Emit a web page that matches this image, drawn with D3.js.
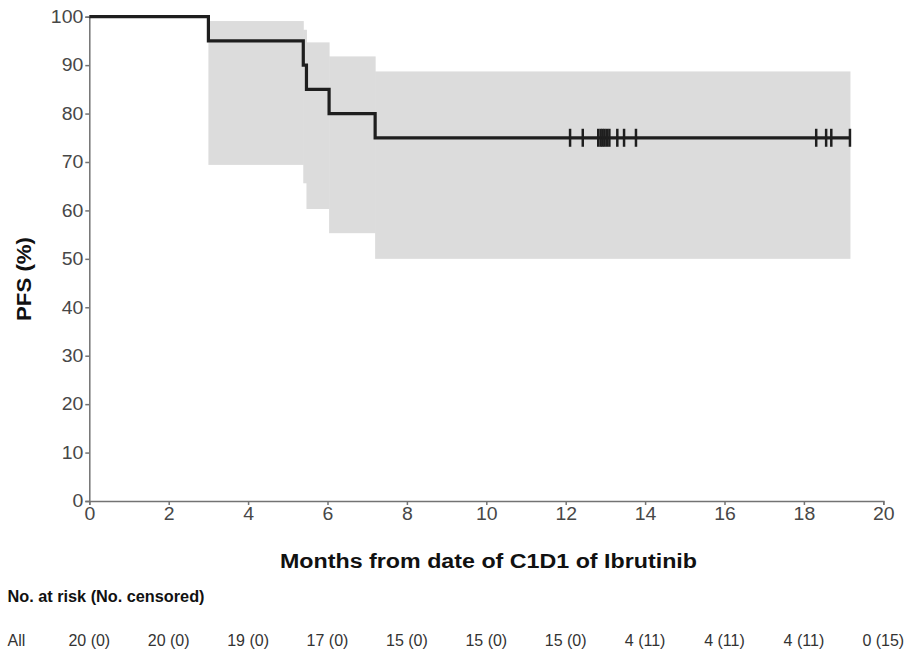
<!DOCTYPE html>
<html><head><meta charset="utf-8">
<script src="https://cdn.jsdelivr.net/npm/d3@7"></script>
<style>body{margin:0;background:#fff}svg{display:block}</style>
</head><body><svg id="c" width="909" height="649"></svg>
<script>
// KM step curve (months, PFS %)
const stepTimes = [0, 3.0, 5.39, 5.47, 6.04, 7.2];
const stepValues = [100, 95, 90, 85, 80, 75];
const endTime = 19.16;
// Confidence band per interval, starting at stepTimes[1]
const ciUpper = [99.1, 97.3, 94.7, 91.8, 88.7];
const ciLower = [69.4, 65.6, 60.3, 55.3, 50.0];
// Censored times
const censorTimes = [12.11, 12.43, 12.82, 12.88, 12.93, 12.98, 13.04, 13.10, 13.30, 13.47, 13.77, 18.31, 18.56, 18.69, 19.16];
const xTicks = [0, 2, 4, 6, 8, 10, 12, 14, 16, 18, 20];
const yTicks = [0, 10, 20, 30, 40, 50, 60, 70, 80, 90, 100];
const atRisk = ["20 (0)", "20 (0)", "19 (0)", "17 (0)", "15 (0)", "15 (0)", "15 (0)", "4 (11)", "4 (11)", "4 (11)", "0 (15)"];

const FONT = "Liberation Sans, Arial, sans-serif";
const svg = d3.select("#c");
const x = d3.scaleLinear().domain([0, 20]).range([89.3, 883.3]);
const y = d3.scaleLinear().domain([0, 100]).range([501, 16.7]);

function stretch(sel, k) {
  sel.each(function () {
    const len = this.getComputedTextLength();
    d3.select(this).attr("textLength", len * k).attr("lengthAdjust", "spacingAndGlyphs");
  });
}

// CI band
const bandPts = [];
for (let i = 0; i < ciUpper.length; i++) {
  const t0 = stepTimes[i + 1], t1 = i + 2 < stepTimes.length ? stepTimes[i + 2] : endTime;
  bandPts.push({t0, t1, u: ciUpper[i], l: ciLower[i]});
}
svg.append("g").selectAll("rect").data(bandPts).join("rect")
  .attr("x", d => x(d.t0)).attr("width", d => x(d.t1) - x(d.t0) + 0.5)
  .attr("y", d => y(d.u)).attr("height", d => y(d.l) - y(d.u))
  .attr("fill", "#dcdcdc");

// axes
const axisColor = "#737373";
const gx = svg.append("g").attr("transform", "translate(0,501)")
  .call(d3.axisBottom(x).tickValues(xTicks).tickSize(4).tickPadding(2));
const gy = svg.append("g").attr("transform", "translate(89.3,0)")
  .call(d3.axisLeft(y).tickValues(yTicks).tickSize(4).tickPadding(2));
[gx, gy].forEach(g => {
  g.selectAll("path,line").attr("stroke", axisColor).attr("stroke-width", 1.5);
  g.selectAll("text").attr("fill", "#474747").style("font-family", FONT).style("font-size", "18px");
  stretch(g.selectAll("text"), 1.08);
});

// KM line
const stepData = stepTimes.map((t, i) => ({t, v: stepValues[i]}));
stepData.push({t: endTime, v: stepValues[stepValues.length - 1]});
const line = d3.line().x(d => x(d.t)).y(d => y(d.v)).curve(d3.curveStepAfter);
svg.append("path").datum(stepData).attr("d", line)
  .attr("fill", "none").attr("stroke", "#1e1e1e").attr("stroke-width", 3.2);

// censor marks
svg.append("g").selectAll("line").data(censorTimes).join("line")
  .attr("x1", d => x(d)).attr("x2", d => x(d))
  .attr("y1", y(75) - 9).attr("y2", y(75) + 9)
  .attr("stroke", "#1e1e1e").attr("stroke-width", 2.5);

// titles
svg.append("text").attr("transform", "translate(31,279) rotate(-90)")
  .attr("text-anchor", "middle").style("font-family", FONT)
  .style("font-weight", "bold").style("font-size", "19.5px").attr("fill", "#111")
  .attr("textLength", 84).attr("lengthAdjust", "spacingAndGlyphs").text("PFS (%)");
svg.append("text").attr("x", 488.5).attr("y", 568).attr("text-anchor", "middle")
  .style("font-family", FONT)
  .style("font-weight", "bold").style("font-size", "19.5px").attr("fill", "#111")
  .attr("textLength", 417).attr("lengthAdjust", "spacingAndGlyphs")
  .text("Months from date of C1D1 of Ibrutinib");

// risk table
svg.append("text").attr("x", 7.5).attr("y", 602)
  .style("font-family", FONT)
  .style("font-weight", "bold").style("font-size", "16px").attr("fill", "#111")
  .attr("textLength", 197).attr("lengthAdjust", "spacingAndGlyphs")
  .text("No. at risk (No. censored)");
svg.append("text").attr("x", 7.5).attr("y", 646)
  .style("font-family", FONT)
  .style("font-size", "16px").attr("fill", "#333").text("All");
svg.append("g").selectAll("text").data(atRisk).join("text")
  .attr("x", (d, i) => x(xTicks[i])).attr("y", 646).attr("text-anchor", "middle")
  .style("font-family", FONT)
  .style("font-size", "16px").attr("fill", "#333").text(d => d);
</script></body></html>
